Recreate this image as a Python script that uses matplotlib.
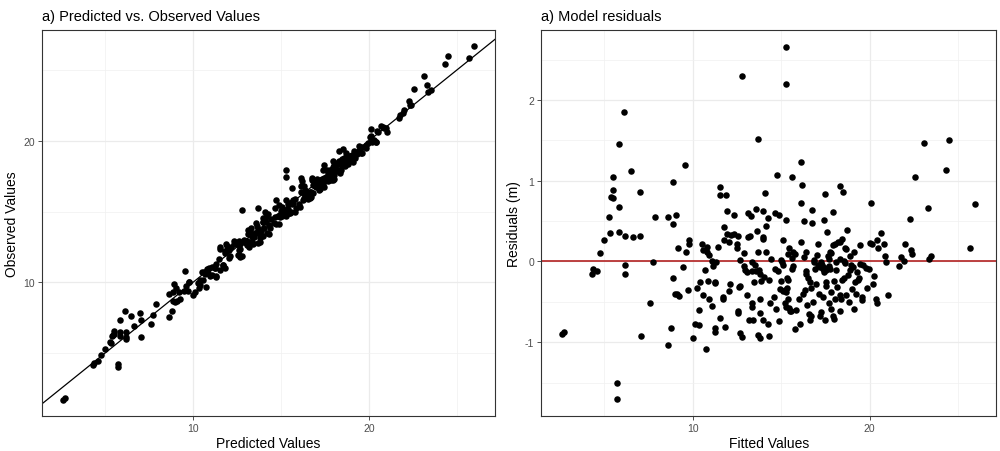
import matplotlib
matplotlib.use('Agg')
import matplotlib.pyplot as plt
from matplotlib.ticker import MultipleLocator
import numpy as np

# fitted values and model residuals
fitted = [15.30, 12.80, 15.26, 6.11, 5.86, 13.70, 23.10, 24.51, 9.57, 16.11,
          6.50, 24.32, 5.51, 14.74, 15.60, 22.58, 8.91, 16.20, 5.49, 7.00,
          5.41, 5.48, 11.56, 11.54, 11.88, 14.10, 17.46, 18.31, 18.52, 5.83,
          20.09, 23.29, 25.98, 16.11, 16.75, 17.93, 11.94, 12.33, 13.12, 13.31,
          13.57, 13.95, 14.68, 14.89, 14.27, 15.30, 5.26, 7.89, 8.63, 9.04,
          8.89, 16.32, 16.77, 17.41, 22.30,
          2.61, 2.70, 5.71, 5.71, 4.30, 4.39, 4.59, 4.77, 5.00, 5.34,
          5.85, 6.18, 6.18, 6.18, 6.62, 7.03, 7.07, 7.59, 7.73, 8.61,
          8.80, 8.87, 8.98, 9.10, 9.25, 9.19, 9.47, 9.62, 9.72, 9.79,
          9.79, 10.02, 10.13, 10.36, 10.38, 10.26, 10.41, 10.51, 10.60, 10.68,
          10.56, 10.75, 10.79, 10.83, 10.90, 10.88, 10.94, 11.07, 11.07, 11.17,
          11.24, 11.26, 11.32, 11.28, 11.28, 11.45, 11.54, 11.69, 11.71, 11.79,
          11.79, 11.84, 11.94, 12.03, 12.11, 12.07, 12.16, 12.35, 12.48, 12.52,
          12.54, 12.59, 12.59, 12.63, 12.67, 12.65, 12.80, 12.67, 12.91, 12.91,
          12.95, 13.05, 13.06, 13.14, 13.23, 13.20, 13.33, 13.36, 13.36, 13.38,
          13.42, 13.46, 13.53, 13.59, 13.63, 13.68, 13.67, 13.83, 13.76, 13.78,
          13.78, 13.83, 13.89, 13.97, 14.00, 13.98, 14.02, 14.12, 14.17, 14.23,
          14.29, 14.32, 14.36, 14.45, 14.61, 14.68, 14.72, 14.83, 14.89, 14.94,
          14.98, 15.02, 15.06, 15.08, 15.08, 15.11, 15.21, 15.30, 15.24, 15.26,
          15.34, 15.38, 15.34, 15.39, 15.41, 15.45, 15.47, 15.49, 15.56, 15.60,
          15.66, 15.60, 15.66, 15.77, 15.79, 15.83, 16.02, 16.11, 16.09, 16.24,
          16.33, 16.28, 16.39, 16.39, 16.43, 16.47, 16.54, 16.62, 16.56, 16.65,
          16.71, 16.71, 16.80, 16.84, 16.88, 16.92, 16.99, 17.01, 17.07, 17.09,
          17.18, 17.14, 17.18, 17.24, 17.25, 17.29, 17.33, 17.37, 17.37, 17.42,
          17.46, 17.56, 17.46, 17.52, 17.56, 17.59, 17.65, 17.71, 17.69, 17.71,
          17.74, 17.78, 17.84, 17.82, 17.84, 17.93, 17.97, 17.93, 18.03, 18.03,
          18.08, 18.12, 17.99, 18.18, 18.21, 18.31, 18.31, 18.35, 18.35, 18.40,
          18.44, 18.46, 18.53, 18.53, 18.59, 18.59, 18.68, 18.65, 18.72, 18.78,
          18.83, 18.87, 18.91, 18.97, 19.06, 19.02, 19.10, 19.12, 19.15, 19.21,
          19.29, 19.32, 19.40, 19.44, 19.47, 19.55, 19.59, 19.62, 19.81, 19.85,
          19.96, 20.04, 20.11, 20.19, 20.26, 20.38, 20.41, 20.43, 20.49, 20.66,
          20.79, 20.85, 20.94, 21.02, 21.69, 21.99, 21.75, 21.96, 22.35, 22.41,
          23.38, 23.50, 25.66]
resid = [2.65, 2.30, 2.20, 1.85, 1.46, 1.52, 1.47, 1.50, 1.20, 1.23,
         1.12, 1.13, 1.04, 1.07, 1.05, 1.05, 0.98, 0.95, 0.88, 0.86,
         0.80, 0.79, 0.92, 0.82, 0.82, 0.85, 0.84, 0.93, 0.86, 0.67,
         0.72, 0.66, 0.71, 0.72, 0.64, 0.61, 0.63, 0.57, 0.60, 0.56,
         0.65, 0.62, 0.60, 0.58, 0.54, 0.51, 0.55, 0.55, 0.55, 0.57,
         0.46, 0.50, 0.47, 0.51, 0.52,
         -0.90, -0.88, -1.50, -1.70, -0.15, -0.09, -0.12, 0.11, 0.27, 0.35,
         0.36, 0.32, -0.04, -0.16, 0.30, 0.31, -0.92, -0.51, -0.01, -1.04,
         -0.82, -0.21, -0.40, -0.40, -0.43, 0.16, -0.07, 0.12, -0.35, 0.26,
         0.22, -0.95, -0.78, -0.79, -0.60, -0.33, -0.26, 0.22, 0.14, -0.11,
         -0.41, -1.09, 0.18, 0.12, 0.08, -0.24, -0.46, -0.55, 0.00, -0.06,
         -0.25, -0.27, -0.01, -0.83, -0.88, 0.18, -0.70, -0.44, -0.46, 0.43,
         0.26, -0.81, 0.34, 0.24, -0.28, -0.37, 0.33, 0.34, 0.22, 0.16,
         -0.62, -0.64, 0.31, -0.32, -0.30, -0.89, -0.93, 0.02, 0.11, -0.06,
         -0.11, -0.42, -0.13, 0.30, 0.31, -0.73, -0.12, -0.01, -0.51, -0.56,
         -0.73, -0.25, -0.05, -0.12, 0.38, 0.12, -0.91, -0.95, -0.11, -0.16,
         -0.64, -0.47, -0.24, 0.30, 0.28, -0.73, -0.19, 0.12, 0.44, -0.78,
         -0.23, -0.92, -0.52, 0.03, -0.44, -0.09, -0.59, -0.12, -0.74, -0.34,
         -0.24, 0.02, -0.01, 0.26, -0.37, -0.05, -0.35, -0.38, -0.51, -0.56,
         -0.33, -0.46, -0.20, -0.23, 0.09, 0.16, -0.58, -0.62, -0.62, 0.04,
         0.12, -0.09, -0.06, 0.09, -0.84, -0.60, -0.47, 0.24, -0.78, -0.40,
         -0.36, 0.06, 0.12, -0.12, -0.16, -0.54, -0.21, -0.25, -0.65, -0.72,
         -0.67, -0.33, -0.50, 0.02, -0.01, -0.09, -0.28, 0.08, 0.22, -0.05,
         -0.07, -0.40, -0.67, -0.63, -0.01, -0.04, -0.06, -0.09, -0.44, -0.13,
         -0.08, -0.11, -0.73, -0.26, -0.30, 0.37, 0.07, 0.03, -0.52, -0.06,
         -0.09, 0.12, 0.10, -0.38, -0.59, -0.67, -0.24, 0.20, 0.22, -0.46,
         -0.01, -0.11, -0.71, -0.32, 0.24, 0.24, 0.03, -0.62, -0.42, -0.46,
         0.28, -0.23, -0.21, 0.01, -0.02, 0.16, 0.15, -0.42, 0.39, -0.17,
         -0.50, 0.07, -0.11, -0.05, -0.07, -0.34, -0.59, 0.12, -0.26, -0.40,
         -0.13, -0.23, -0.21, 0.20, -0.03, -0.44, -0.48, -0.05, -0.08, -0.33,
         -0.09, 0.23, 0.22, -0.28, -0.18, -0.47, -0.52, 0.26, 0.16, 0.35,
         0.21, 0.07, -0.01, -0.42, -0.06, 0.21, 0.06, 0.00, 0.14, 0.09,
         0.03, 0.07, 0.16]

fitted = np.array(fitted)
resid = np.array(resid)
observed = fitted + resid

plt.rcParams['font.family'] = ['Liberation Sans', 'DejaVu Sans']
plt.rcParams['axes.unicode_minus'] = False

fig = plt.figure(figsize=(10, 4.52), dpi=100)
ax1 = fig.add_axes([0.042, 0.0768, 0.453, 0.855])
ax2 = fig.add_axes([0.5413, 0.0768, 0.4547, 0.855])


def gg_bw(ax, xmaj, xmin, ymaj, ymin):
    ax.set_axisbelow(True)
    ax.xaxis.set_major_locator(MultipleLocator(xmaj))
    ax.xaxis.set_minor_locator(MultipleLocator(xmin))
    ax.yaxis.set_major_locator(MultipleLocator(ymaj))
    ax.yaxis.set_minor_locator(MultipleLocator(ymin))
    ax.grid(which='major', color='#EBEBEB', lw=0.9)
    ax.grid(which='minor', color='#F0F0F0', lw=0.5)
    ax.tick_params(which='major', length=3, width=0.6, color='#333333',
                   labelsize=7.5, labelcolor='#4D4D4D', pad=2)
    ax.tick_params(which='minor', length=0)
    for s in ax.spines.values():
        s.set_color('#333333')
        s.set_linewidth(0.8)


# fig 1: predicted vs observed
ax1.scatter(fitted, observed, s=22, c='black', linewidths=0, zorder=3)
ax1.set_xlim(1.42, 27.16)
ax1.set_ylim(0.54, 27.83)
ax1.axline((0, 0), slope=1, color='black', lw=0.9, zorder=2)
gg_bw(ax1, 10, 5, 10, 5)
ax1.set_xlim(1.42, 27.16)
ax1.set_ylim(0.54, 27.83)
ax1.set_title('a) Predicted vs. Observed Values', loc='left', fontsize=10.5, pad=7)
ax1.set_xlabel('Predicted Values', fontsize=10, labelpad=2)
ax1.set_ylabel('Observed Values', fontsize=10, labelpad=3)

# fig 2: residuals
ax2.scatter(fitted, resid, s=22, c='black', linewidths=0, zorder=3)
ax2.margins(0.05)
ax2.axhline(0, color='#B22222', lw=1.2, zorder=2)
gg_bw(ax2, 10, 5, 1, 0.5)
ax2.set_title('a) Model residuals', loc='left', fontsize=10.5, pad=7)
ax2.set_xlabel('Fitted Values', fontsize=10, labelpad=2)
ax2.set_ylabel('Residuals (m)', fontsize=10, labelpad=3)

fig.savefig('out.png', dpi=100)
